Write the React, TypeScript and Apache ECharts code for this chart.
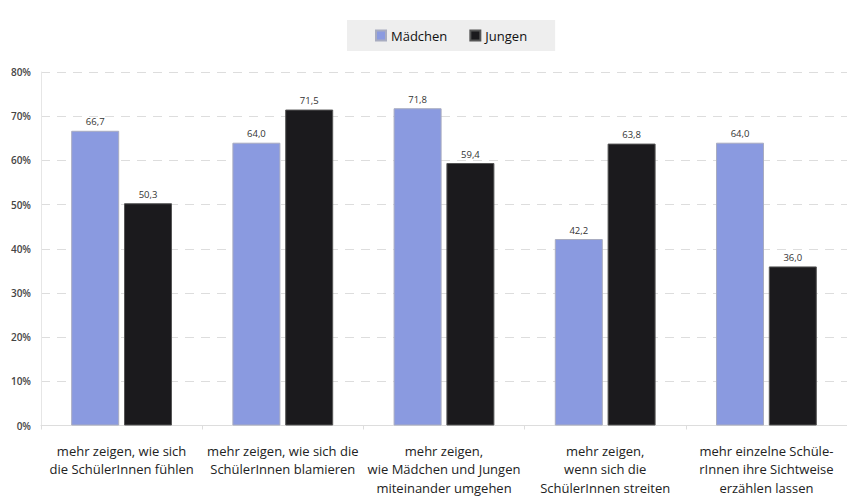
import React, { useEffect, useRef } from "react";
import * as echarts from "echarts";

const categories = [
  "mehr zeigen, wie sich\ndie SchülerInnen fühlen",
  "mehr zeigen, wie sich die\nSchülerInnen blamieren",
  "mehr zeigen,\nwie Mädchen und Jungen\nmiteinander umgehen",
  "mehr zeigen,\nwenn sich die\nSchülerInnen streiten",
  "mehr einzelne Schüle-\nrInnen ihre Sichtweise\nerzählen lassen",
];
const maedchen = [66.7, 64.0, 71.8, 42.2, 64.0];
const jungen = [50.3, 71.5, 59.4, 63.8, 36.0];
const seriesNames = ["Mädchen", "Jungen"];
const yTicks = [0, 10, 20, 30, 40, 50, 60, 70, 80];

const FONT = "'Open Sans', 'Noto Sans', sans-serif";

export default function App() {
  const ref = useRef<HTMLDivElement>(null);
  useEffect(() => {
    if (!ref.current) return;
    const chart = echarts.init(ref.current, undefined, { renderer: "svg" });
    const labelCfg = {
      show: true,
      position: "top" as const,
      distance: 4,
      fontSize: 9.5,
      color: "#333",
      fontFamily: FONT,
      formatter: (p: any) => Number(p.value).toFixed(1).replace(".", ","),
    };
    chart.setOption({
      animation: false,
      backgroundColor: "#ffffff",
      legend: {
        top: 20,
        left: 347,
        backgroundColor: "#eeeeee",
        padding: [9, 28, 9, 28],
        itemWidth: 10,
        itemHeight: 10,
        itemGap: 22,
        icon: "rect",
        textStyle: { fontSize: 13, color: "#111", fontFamily: FONT },
        data: seriesNames,
      },
      grid: { left: 41, right: -7, top: 72, bottom: 70 },
      xAxis: {
        type: "category",
        data: categories,
        axisLine: { show: true, lineStyle: { color: "#dddddd", width: 1 } },
        axisTick: { show: true, length: 4, lineStyle: { color: "#dddddd" } },
        axisLabel: {
          interval: 0,
          margin: 16,
          fontSize: 13,
          lineHeight: 18.5,
          color: "#222",
          fontFamily: FONT,
        },
      },
      yAxis: {
        type: "value",
        min: yTicks[0],
        max: yTicks[yTicks.length - 1],
        interval: 10,
        axisLine: { show: true, lineStyle: { color: "#e6e6e6" } },
        axisTick: { show: false },
        axisLabel: {
          margin: 10,
          fontSize: 10,
          color: "#444",
          fontWeight: 600,
          fontFamily: FONT,
          formatter: (v: number) => `${v}%`,
        },
        splitLine: {
          show: true,
          lineStyle: { color: "#dddddd", type: [9, 7], width: 1 },
        },
      },
      series: [
        {
          name: seriesNames[0],
          type: "bar",
          data: maedchen,
          barWidth: 48,
          barGap: "10%",
          itemStyle: { color: "#8a9ae0", borderColor: "#a8acc0", borderWidth: 1 },
          label: labelCfg,
        },
        {
          name: seriesNames[1],
          type: "bar",
          data: jungen,
          barWidth: 48,
          barGap: "10%",
          itemStyle: { color: "#1b1a1d", borderColor: "#555555", borderWidth: 1 },
          label: labelCfg,
        },
      ],
    });
    return () => chart.dispose();
  }, []);
  return (
    <div
      ref={ref}
      style={{ position: "fixed", left: 0, top: 0, width: 847, height: 497 }}
    />
  );
}
